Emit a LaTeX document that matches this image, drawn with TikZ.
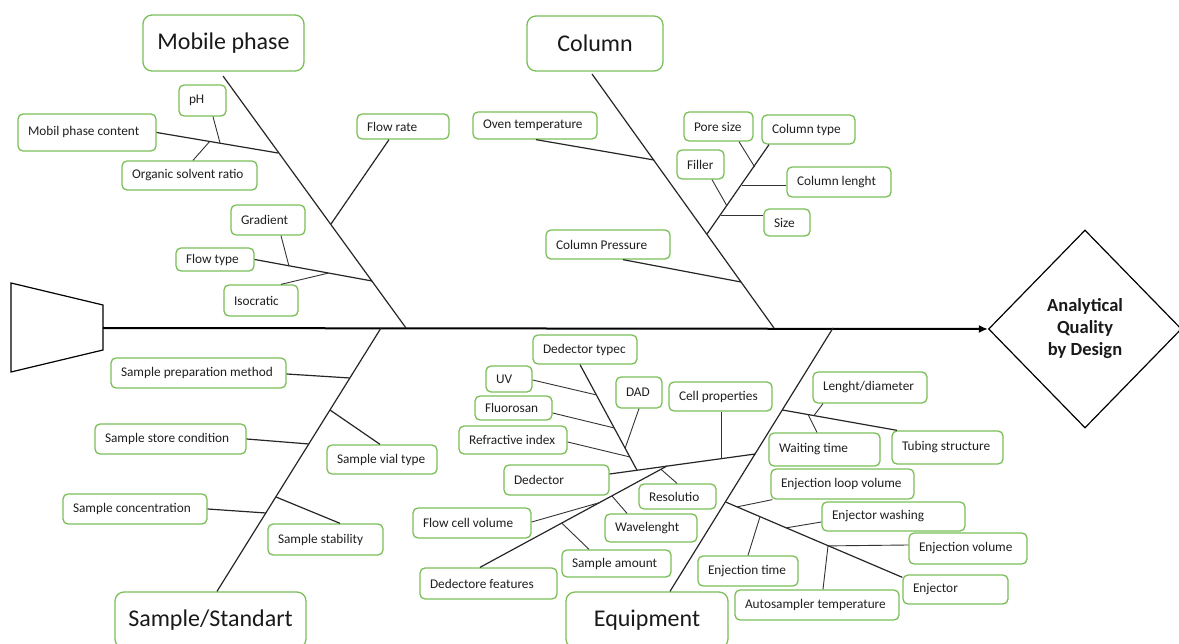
\documentclass[tikz,border=0pt]{standalone}
\usepackage{fontspec}
\setmainfont{Carlito}
\usetikzlibrary{arrows.meta,shapes.geometric}
\definecolor{bxgreen}{RGB}{122,190,88}
\tikzset{
 box/.style={draw=bxgreen, line width=1.3pt, rounded corners=5pt, inner xsep=10pt, inner ysep=0pt, font=\fontsize{13.3}{16}\selectfont, text=black!88},
 titlebox/.style={draw=bxgreen, line width=1.3pt, rounded corners=9pt, inner sep=0pt, font=\fontsize{24}{28}\selectfont, text=black!90},
 bone/.style={line width=1.2pt, black!85},
 twig/.style={line width=0.9pt, black!80},
}
\newcommand\fbbox[7][0]{%
 \pgfmathsetmacro\xBW{#5-#3}\pgfmathsetmacro\xBH{#6-#4}\pgfmathsetmacro\xTW{#5-#3-20}%
 \node[box, minimum width=\xBW pt, minimum height=\xBH pt] (#2) at ({(#3+#5)/2},{(#4+#6)/2}) {\raisebox{#1pt}{\makebox[\xTW pt][l]{#7}}};}
\begin{document}
\begin{tikzpicture}[x=1pt,y=-1pt]
\useasboundingbox (0,0) rectangle (1179,644);
% titles
\node[titlebox, minimum width=161pt, minimum height=56pt] (mp) at (223.5,43) {Mobile phase};
\node[titlebox, minimum width=136pt, minimum height=55pt] (col) at (595,43.5) {Column};
\node[titlebox, minimum width=191pt, minimum height=56pt] (ss) at (210.5,620) {Sample/Standart};
\node[titlebox, minimum width=162pt, minimum height=56pt] (eq) at (647,620) {Equipment};
\node[draw, diamond, line width=1.2pt, minimum width=193pt, minimum height=198pt, inner sep=0pt, align=center, font=\bfseries\fontsize{18.5}{23}\selectfont, text=black!90] (aqd) at (1085,329) {\raisebox{-3pt}{\begin{tabular}{@{}c@{}}Analytical\\[-1pt]Quality\\[-1pt]by Design\end{tabular}}};
% boxes
\fbbox[3]{mpc}{18}{114}{156}{151}{Mobil phase content}
\fbbox{ph}{179}{85}{226}{116}{pH}
\fbbox[-1]{osr}{122}{161}{257}{190}{Organic solvent ratio}
\fbbox{fr}{357}{114}{449}{139}{Flow rate}
\fbbox{grad}{231}{205}{305}{235}{Gradient}
\fbbox[-2]{ft}{176}{248}{254}{271}{Flow type}
\fbbox{iso}{224}{285}{298}{316}{Isocratic}
\fbbox{ot}{473}{112}{597}{139}{Oven temperature}
\fbbox{ps}{684}{112}{753}{141}{Pore size}
\fbbox{ct}{762}{115}{855}{144}{Column type}
\fbbox{fil}{677}{150}{724}{179}{Filler}
\fbbox{cl}{787}{167}{891}{197}{Column lenght}
\fbbox{sz}{764}{209}{810}{236}{Size}
\fbbox{cp}{546}{230}{670}{259}{Column Pressure}
\fbbox{spm}{111}{358}{286}{388}{Sample preparation method}
\fbbox{ssc}{95}{424}{246}{454}{Sample store condition}
\fbbox{svt}{327}{445}{437}{474}{Sample vial type}
\fbbox{sc}{63}{494}{207}{524}{Sample concentration}
\fbbox{sst}{268}{524}{383}{555}{Sample stability}
\fbbox{dt}{533}{335}{637}{364}{Dedector typec}
\fbbox{uv}{486}{366}{532}{392}{UV}
\fbbox{dad}{616}{377}{662}{408}{DAD}
\fbbox{cpr}{669}{382}{772}{411}{Cell properties}
\fbbox{flu}{475}{396}{552}{420}{Fluorosan}
\fbbox{ri}{459}{426}{567}{454}{Refractive index}
\fbbox{ded}{504}{465}{609}{495}{Dedector}
\fbbox{res}{639}{484}{716}{509}{Resolutio}
\fbbox{fcv}{413}{508}{531}{538}{Flow cell volume}
\fbbox{wl}{605}{514}{697}{542}{Wavelenght}
\fbbox{sa}{562}{550}{671}{577}{Sample amount}
\fbbox{df}{420}{568}{557}{599}{Dedectore features}
\fbbox{ld}{813}{372}{927}{403}{Lenght/diameter}
\fbbox{wt}{769}{433}{880}{466}{Waiting time}
\fbbox{ts}{892}{431}{1003}{464}{Tubing structure}
\fbbox{elv}{771}{469}{914}{499}{Enjection loop volume}
\fbbox{ew}{822}{502}{965}{531}{Enjector washing}
\fbbox{ev}{909}{533}{1027}{564}{Enjection volume}
\fbbox{et}{698}{556}{798}{586}{Enjection time}
\fbbox{ast}{735}{590}{899}{620}{Autosampler temperature}
\fbbox{inj}{903}{575}{1008}{604}{Enjector}
% tail and spine
\draw[line width=1.2pt] (11,283) -- (103,305) -- (103,350) -- (11,372) -- cycle;
\coordinate (tail) at (103,328);
\draw[line width=2pt,-{Latex[length=9pt,width=8pt]}] (tail) -- (aqd.west);
% Mobile phase
\coordinate (mpT) at (223,76);
\coordinate (mpB) at (406,328);
\draw[bone] (mpT) -- (mpB);
\coordinate (j1) at (278,153);
\draw[bone] (mpc.east) -- (j1);
\coordinate (j1a) at (220,142.9);
\draw[twig] (ph.south -| 213,0) -- (j1a);
\coordinate (j1b) at (210,141.1);
\draw[twig] (osr.north -| 193,0) -- (j1b);
\coordinate (j2) at (331,224);
\draw[bone] (fr.south -| 389,0) -- (j2);
\coordinate (j3) at (372,281);
\draw[bone] (ft.east) -- (j3);
\coordinate (j3a) at (289,266.2);
\draw[twig] (grad.south -| 281,0) -- (j3a);
\coordinate (j3b) at (328,273.2);
\draw[twig] (iso.north -| 281,0) -- (j3b);
% Column
\coordinate (colT) at (592,74);
\coordinate (colB) at (774,328);
\draw[bone] (colT) -- (colB);
\coordinate (k1) at (654,160);
\draw[bone] (ot.south -| 536,0) -- (k1);
\coordinate (k2) at (741,282);
\draw[bone] (cp.south -| 623,0) -- (k2);
\coordinate (k3) at (707,234);
\draw[bone] (ct.south -| 769,0) -- (k3);
\coordinate (k3a) at (754.7,167);
\draw[twig] (ps.south -| 739,0) -- (k3a);
\coordinate (k3b) at (741.9,185);
\draw[twig] (cl.west |- 0,185) -- (k3b);
\coordinate (k3c) at (727,206);
\draw[twig] (fil.south -| 712,0) -- (k3c);
\coordinate (k3d) at (720.5,215);
\draw[twig] (sz.west |- 0,215) -- (k3d);
% Sample
\coordinate (ssT) at (381,328);
\draw[bone] (ssT) -- (ss.north -| 217,0);
\coordinate (s1) at (350,378);
\draw[bone] (spm.east |- 0,374) -- (s1);
\coordinate (s2) at (330,410);
\draw[bone] (s2) -- (svt.north -| 380,0);
\coordinate (s3) at (309,444);
\draw[bone] (ssc.east |- 0,439) -- (s3);
\coordinate (s4) at (266,513);
\draw[bone] (sc.east |- 0,509) -- (s4);
\coordinate (s5) at (276,497);
\draw[bone] (s5) -- (sst.north -| 340,0);
% Equipment
\coordinate (eqT) at (833,328);
\draw[bone] (eqT) -- (eq.north -| 670,0);
\coordinate (e1) at (755.2,454);
\draw[bone] (ded.east |- 0,474) -- (e1);
\coordinate (e1a) at (721,458.7);
\draw[twig] (cpr.south -| 721,0) -- (e1a);
\coordinate (e1b) at (637,470.2);
\draw[bone] (dt.south -| 580,0) -- (e1b);
\coordinate (e1b1) at (596.7,395);
\draw[twig] (uv.east |- 0,380) -- (e1b1);
\coordinate (e1b2) at (614.4,428);
\draw[twig] (flu.east |- 0,413) -- (e1b2);
\coordinate (e1b3) at (630,457);
\draw[twig] (ri.east |- 0,442) -- (e1b3);
\coordinate (e1b4) at (625.2,448);
\draw[twig] (dad.south -| 639,0) -- (e1b4);
\coordinate (e1c) at (667,466);
\draw[bone] (df.north -| 480,0) -- (e1c);
\coordinate (e1c1) at (661,469.3);
\draw[twig] (e1c1) -- (res.north -| 677,0);
\coordinate (e1c2) at (600,502.5);
\draw[twig] (fcv.east |- 0,522) -- (e1c2);
\coordinate (e1c3) at (612,496);
\draw[twig] (e1c3) -- (wl.north -| 627,0);
\coordinate (e1c4) at (562,523.3);
\draw[twig] (e1c4) -- (sa.north -| 589,0);
\coordinate (e2) at (782.4,410);
\draw[bone] (e2) -- (ts.north -| 897,0);
\coordinate (e2a) at (814,415.5);
\draw[twig] (ld.south -| 823,0) -- (e2a);
\coordinate (e2b) at (808,414.5);
\draw[twig] (e2b) -- (wt.north -| 817,0);
\coordinate (e3) at (725.6,502);
\draw[bone] (e3) -- ([yshift=-3pt]inj.north west);
\coordinate (e3a) at (737,506.9);
\draw[twig] (e3a) -- ([xshift=2pt]elv.south west);
\coordinate (e3b) at (786,527.9);
\draw[twig] (e3b) -- (ew.west |- 0,522);
\coordinate (e3c) at (828,545.9);
\draw[twig] (e3c) -- (ev.west |- 0,545);
\draw[twig] (e3c) -- (ast.north -| 823,0);
\coordinate (e3d) at (760,516.7);
\draw[twig] (e3d) -- (et.north -| 748,0);
\end{tikzpicture}
\end{document}
